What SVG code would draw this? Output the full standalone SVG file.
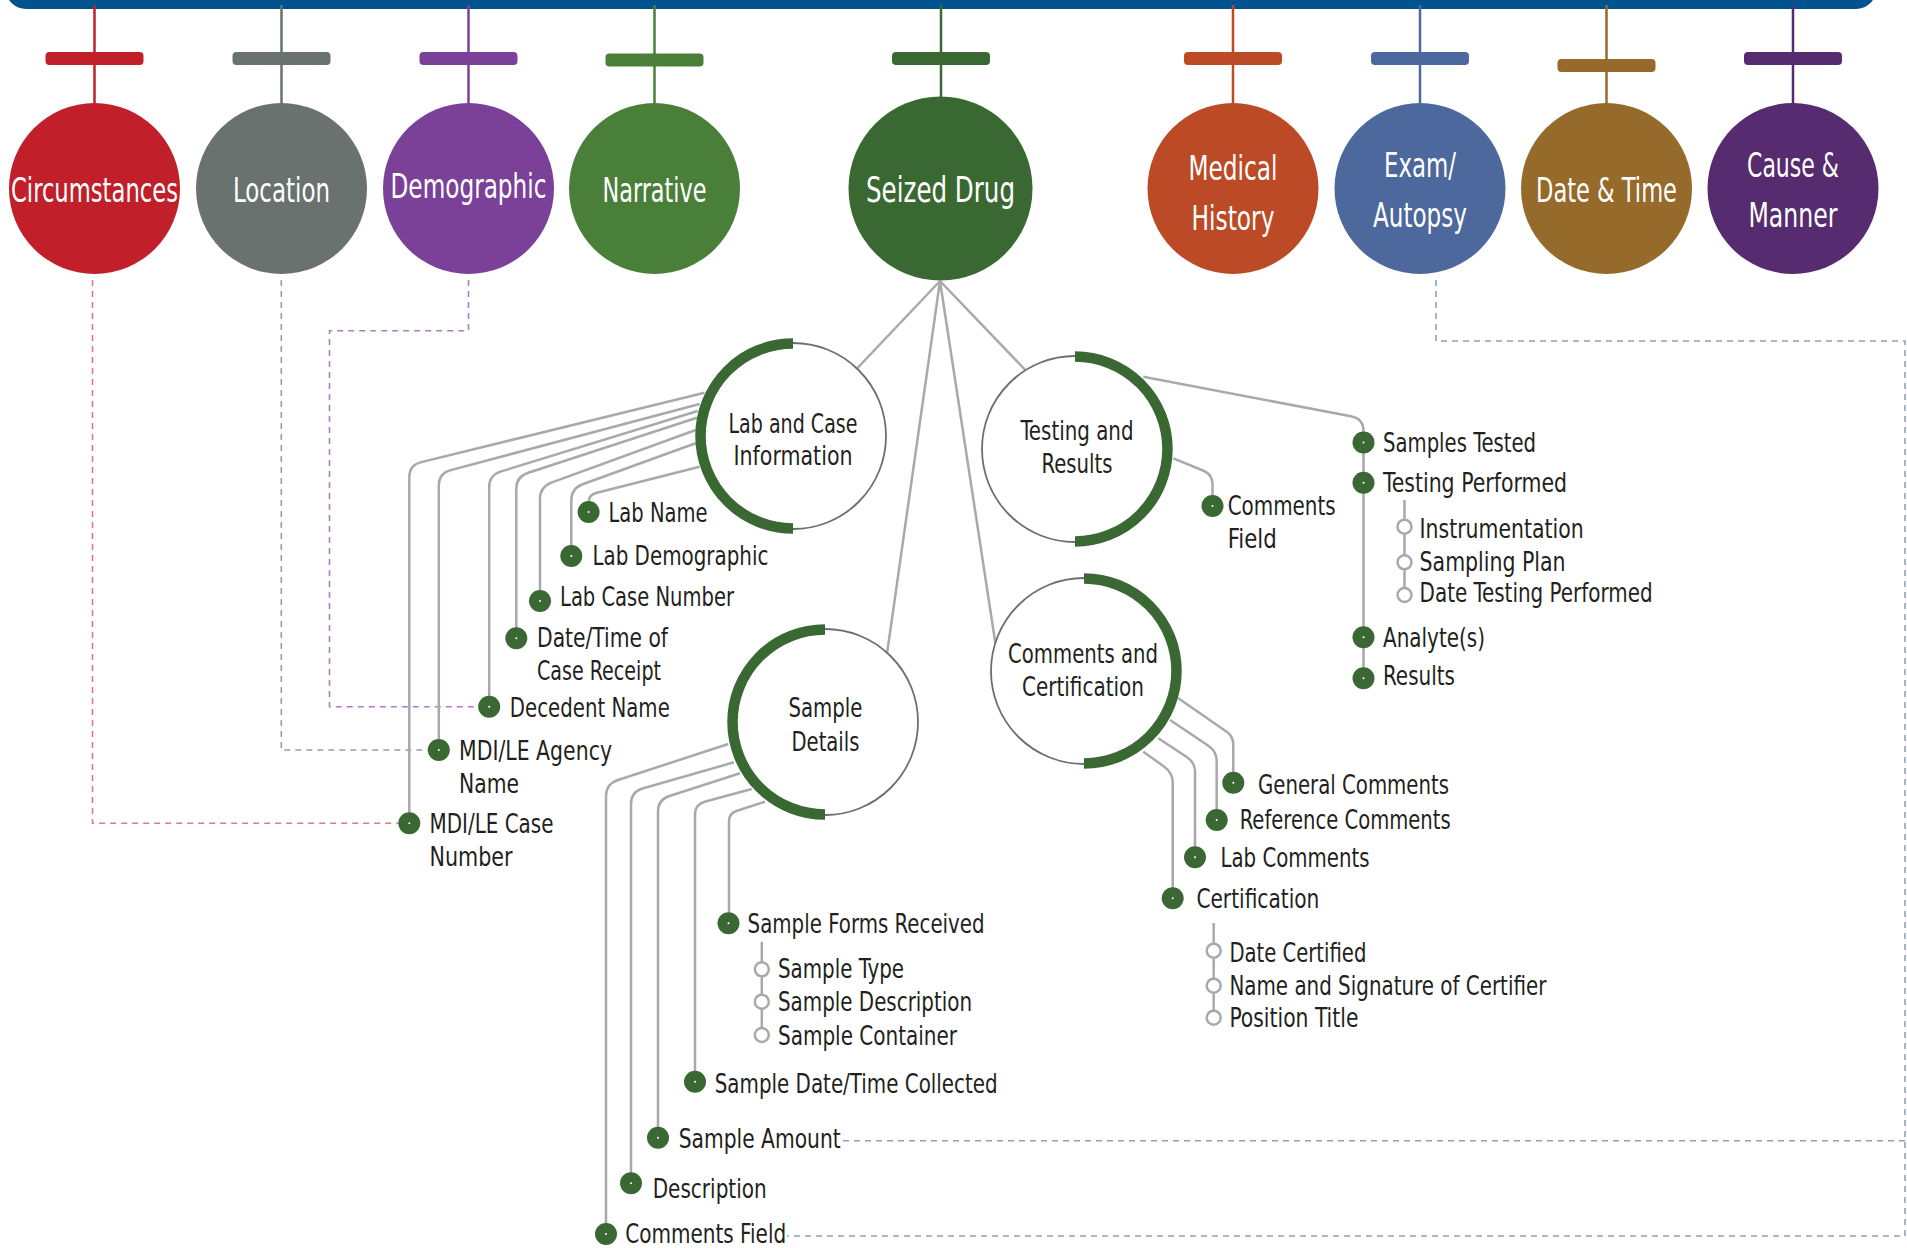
<svg xmlns="http://www.w3.org/2000/svg" xmlns:xlink="http://www.w3.org/1999/xlink" width="1907" height="1248" viewBox="0 0 1907 1248">
<style>
text{font-family:'DejaVu Sans Condensed','Liberation Sans Narrow','DejaVu Sans',sans-serif;}
.lt{font-size:27px;fill:#231F20;}
.ct{font-size:26.5px;fill:#231F20;text-anchor:middle;}
.tt{font-size:34px;fill:#FFFFFF;text-anchor:middle;}
.conn{fill:none;stroke:#A7A9AC;stroke-width:2.5;}
.ring{fill:#FFFFFF;stroke:#6D6E71;stroke-width:1.8;}
.arc{fill:none;stroke:#3A6833;stroke-width:10.5;}
.dash{fill:none;stroke-width:1.6;stroke-dasharray:6 5;}
.stem{stroke-width:2.5;fill:none;}
</style>
<defs>
<g id="gdot"><circle r="11" fill="#3A6833"/><circle r="1" fill="#FFFFFF"/></g>
<circle id="hdot" r="7" fill="#FFFFFF" stroke="#A7A9AC" stroke-width="2.5"/>
</defs>

<rect x="6" y="-30" width="1870" height="39" rx="20" fill="#00538F"/>

<g id="connectors">
  <path class="dash" stroke="#E07B82" d="M92.5,280 V823.3 H400"/>
  <path class="dash" stroke="#9B9D9F" d="M281.3,280 V750 H430"/>
  <path class="dash" stroke="#B07CC6" d="M468.5,280 V330.7 H329.5 V706.7 H480"/>
  <path class="dash" stroke="#8DA0C6" d="M1436,280 V341 H1905 V1236 H787"/>
  <path class="dash" stroke="#8DA0C6" d="M1905,1140.7 H840"/>
  <path class="conn" d="M940,281 L793,436"/>
  <path class="conn" d="M940,281 L1048.8,394.5"/>
  <path class="conn" d="M940,281 L879.4,707.3"/>
  <path class="conn" d="M940,281 L1001,680"/>
  <path class="conn" d="M704.5,392.7 L421.3,462.1 Q409.3,465 409.3,477 L409.3,823.3"/>
  <path class="conn" d="M699.6,404 L450.8,470.1 Q438.8,473.3 438.8,485.3 L438.8,750"/>
  <path class="conn" d="M697.6,411 L501.2,471.4 Q489.2,475 489.2,487 L489.2,706.7"/>
  <path class="conn" d="M696.9,417.7 L528.3,472.8 Q516.3,476.7 516.3,488.7 L516.3,638.3"/>
  <path class="conn" d="M695.7,430 L552,482.3 Q540,486.7 540,498.7 L540,601"/>
  <path class="conn" d="M695.7,443.3 L583.3,484 Q571.3,488.3 571.3,500.3 L571.3,556"/>
  <path class="conn" d="M699.6,466.7 L596,493 Q588.6,495 588.6,503 L588.6,512"/>
  <path class="conn" d="M728.3,744 L618,780 Q606,784 606,796 L606,1234"/>
  <path class="conn" d="M734,762.3 L642.5,788.5 Q631,792 631,804 L631,1183.3"/>
  <path class="conn" d="M740,773.3 L669.5,796 Q658,799.5 658,811.5 L658,1137.7"/>
  <path class="conn" d="M751.7,789 L705.5,801.5 Q695,804.3 695,814 L695,1081.7"/>
  <path class="conn" d="M765,801.7 L737,810.8 Q729,813.4 729,821 L729,923.3"/>
  <path class="conn" d="M761.8,941.7 V1035"/>
  <path class="conn" d="M1143.3,376.7 L1351,416.3 Q1363.5,419 1363.5,431 L1363.5,678.3"/>
  <path class="conn" d="M1173.3,458.3 L1203,470.5 Q1212.5,474.5 1212.5,484 L1212.5,506"/>
  <path class="conn" d="M1404.5,500 V595"/>
  <path class="conn" d="M1178.3,698.3 L1226.7,731.7 Q1233.3,736.3 1233.3,745 L1233.3,782.7"/>
  <path class="conn" d="M1170,720 L1208,745.5 Q1216.7,751.5 1216.7,761 L1216.7,820"/>
  <path class="conn" d="M1158.3,738.3 L1186,756.5 Q1195,762.5 1195,771 L1195,857.3"/>
  <path class="conn" d="M1143.3,751.7 L1164,766.5 Q1172.7,773 1172.7,782 L1172.7,898.3"/>
  <path class="conn" d="M1213.7,923 V1017.7"/>
</g>

<g id="node-circumstances">
  <line class="stem" stroke="#C1202A" x1="94.5" y1="5" x2="94.5" y2="110"/>
  <rect x="45.5" y="52" width="98" height="13" rx="4" fill="#C1202A"/>
  <circle cx="94.5" cy="188.5" r="85.5" fill="#C1202A"/>
  <text class="tt" x="94.5" y="201.7" textLength="167" lengthAdjust="spacingAndGlyphs">Circumstances</text>
</g>
<g id="node-location">
  <line class="stem" stroke="#6A7270" x1="281.5" y1="5" x2="281.5" y2="110"/>
  <rect x="232.5" y="52" width="98" height="13" rx="4" fill="#6A7270"/>
  <circle cx="281.5" cy="188.5" r="85.5" fill="#6A7270"/>
  <text class="tt" x="281.5" y="201.7" textLength="97" lengthAdjust="spacingAndGlyphs">Location</text>
</g>
<g id="node-demographic">
  <line class="stem" stroke="#7B4199" x1="468.5" y1="5" x2="468.5" y2="110"/>
  <rect x="419.5" y="52" width="98" height="13" rx="4" fill="#7B4199"/>
  <circle cx="468.5" cy="188.5" r="85.5" fill="#7B4199"/>
  <text class="tt" x="468.5" y="197.5" textLength="156" lengthAdjust="spacingAndGlyphs">Demographic</text>
</g>
<g id="node-narrative">
  <line class="stem" stroke="#4A7F3A" x1="654.5" y1="5" x2="654.5" y2="110"/>
  <rect x="605.5" y="53.5" width="98" height="13" rx="4" fill="#4A7F3A"/>
  <circle cx="654.5" cy="188.5" r="85.5" fill="#4A7F3A"/>
  <text class="tt" x="654.5" y="201.7" textLength="104" lengthAdjust="spacingAndGlyphs">Narrative</text>
</g>
<g id="node-seized-drug">
  <line class="stem" stroke="#3A6833" x1="941" y1="5" x2="941" y2="110"/>
  <rect x="892" y="52" width="98" height="13" rx="4" fill="#3A6833"/>
  <circle cx="940.5" cy="188.5" r="92" fill="#3A6833"/>
  <text class="tt" x="940.5" y="201.7" style="font-size:36px" textLength="149" lengthAdjust="spacingAndGlyphs">Seized Drug</text>
</g>
<g id="node-medical-history">
  <line class="stem" stroke="#BC4A26" x1="1233" y1="5" x2="1233" y2="110"/>
  <rect x="1184" y="52" width="98" height="13" rx="4" fill="#BC4A26"/>
  <circle cx="1233" cy="188.5" r="85.5" fill="#BC4A26"/>
  <text class="tt" x="1233" y="180" textLength="89" lengthAdjust="spacingAndGlyphs">Medical</text>
  <text class="tt" x="1233" y="230" textLength="83" lengthAdjust="spacingAndGlyphs">History</text>
</g>
<g id="node-exam-autopsy">
  <line class="stem" stroke="#4C689C" x1="1420" y1="5" x2="1420" y2="110"/>
  <rect x="1371" y="52" width="98" height="13" rx="4" fill="#4C689C"/>
  <circle cx="1420" cy="188.5" r="85.5" fill="#4C689C"/>
  <text class="tt" x="1420" y="176.7" textLength="72" lengthAdjust="spacingAndGlyphs">Exam/</text>
  <text class="tt" x="1420" y="226.7" textLength="94" lengthAdjust="spacingAndGlyphs">Autopsy</text>
</g>
<g id="node-date-time">
  <line class="stem" stroke="#956A2A" x1="1606.5" y1="5" x2="1606.5" y2="110"/>
  <rect x="1557.5" y="59" width="98" height="13" rx="4" fill="#956A2A"/>
  <circle cx="1606.5" cy="188.5" r="85.5" fill="#956A2A"/>
  <text class="tt" x="1606.5" y="201.7" textLength="141" lengthAdjust="spacingAndGlyphs">Date &amp; Time</text>
</g>
<g id="node-cause-manner">
  <line class="stem" stroke="#562B70" x1="1793" y1="5" x2="1793" y2="110"/>
  <rect x="1744" y="52" width="98" height="13" rx="4" fill="#562B70"/>
  <circle cx="1793" cy="188.5" r="85.5" fill="#562B70"/>
  <text class="tt" x="1793" y="176.7" textLength="92" lengthAdjust="spacingAndGlyphs">Cause &amp;</text>
  <text class="tt" x="1793" y="226.7" textLength="89" lengthAdjust="spacingAndGlyphs">Manner</text>
</g>

<g id="node-lab-case">
  <circle class="ring" cx="793" cy="436" r="93"/>
  <path class="arc" d="M793,343.5 A92.5,92.5 0 0 0 793,528.5"/>
  <text class="ct" x="793" y="432.7" textLength="129" lengthAdjust="spacingAndGlyphs">Lab and Case</text>
  <text class="ct" x="793" y="465" textLength="119" lengthAdjust="spacingAndGlyphs">Information</text>
</g>
<g id="node-testing">
  <circle class="ring" cx="1075" cy="449" r="93"/>
  <path class="arc" d="M1075,356.5 A92.5,92.5 0 0 1 1075,541.5"/>
  <text class="ct" x="1077" y="440" textLength="113" lengthAdjust="spacingAndGlyphs">Testing and</text>
  <text class="ct" x="1077" y="472.7" textLength="71" lengthAdjust="spacingAndGlyphs">Results</text>
</g>
<g id="node-sample-details">
  <circle class="ring" cx="825" cy="722" r="93"/>
  <path class="arc" d="M825,629.5 A92.5,92.5 0 0 0 825,814.5"/>
  <text class="ct" x="825.5" y="717.3" textLength="74" lengthAdjust="spacingAndGlyphs">Sample</text>
  <text class="ct" x="825.5" y="750.7" textLength="68" lengthAdjust="spacingAndGlyphs">Details</text>
</g>
<g id="node-comments-cert">
  <circle class="ring" cx="1084" cy="671" r="93"/>
  <path class="arc" d="M1084,578.5 A92.5,92.5 0 0 1 1084,763.5"/>
  <text class="ct" x="1083" y="663" textLength="150" lengthAdjust="spacingAndGlyphs">Comments and</text>
  <text class="ct" x="1083" y="695.7" textLength="122" lengthAdjust="spacingAndGlyphs">Certification</text>
</g>

<g id="item-lab-name"><use xlink:href="#gdot" x="588.6" y="512"/><text class="lt" x="608.5" y="521.7" textLength="99" lengthAdjust="spacingAndGlyphs">Lab Name</text></g>
<g id="item-lab-demographic"><use xlink:href="#gdot" x="571.3" y="556"/><text class="lt" x="592.4" y="565" textLength="176" lengthAdjust="spacingAndGlyphs">Lab Demographic</text></g>
<g id="item-lab-case-number"><use xlink:href="#gdot" x="540" y="601"/><text class="lt" x="560" y="606" textLength="174" lengthAdjust="spacingAndGlyphs">Lab Case Number</text></g>
<g id="item-date-time-receipt"><use xlink:href="#gdot" x="516.3" y="638.3"/><text class="lt" x="537" y="647.3" textLength="131" lengthAdjust="spacingAndGlyphs">Date/Time of</text><text class="lt" x="537" y="680" textLength="124" lengthAdjust="spacingAndGlyphs">Case Receipt</text></g>
<g id="item-decedent-name"><use xlink:href="#gdot" x="489.2" y="706.7"/><text class="lt" x="509.8" y="717" textLength="160" lengthAdjust="spacingAndGlyphs">Decedent Name</text></g>
<g id="item-agency-name"><use xlink:href="#gdot" x="438.8" y="750"/><text class="lt" x="459" y="760" textLength="153" lengthAdjust="spacingAndGlyphs">MDI/LE Agency</text><text class="lt" x="459" y="792.7" textLength="60" lengthAdjust="spacingAndGlyphs">Name</text></g>
<g id="item-case-number"><use xlink:href="#gdot" x="409.3" y="823.3"/><text class="lt" x="429.5" y="833.3" textLength="124" lengthAdjust="spacingAndGlyphs">MDI/LE Case</text><text class="lt" x="429.5" y="866" textLength="83" lengthAdjust="spacingAndGlyphs">Number</text></g>

<g id="item-samples-tested"><use xlink:href="#gdot" x="1363.5" y="442.5"/><text class="lt" x="1383" y="451.7" textLength="153" lengthAdjust="spacingAndGlyphs">Samples Tested</text></g>
<g id="item-testing-performed"><use xlink:href="#gdot" x="1363.5" y="482.7"/><text class="lt" x="1383" y="491.7" textLength="184" lengthAdjust="spacingAndGlyphs">Testing Performed</text></g>
<g id="item-instrumentation"><use xlink:href="#hdot" x="1404.5" y="526.7"/><text class="lt" x="1419.6" y="538.3" textLength="164" lengthAdjust="spacingAndGlyphs">Instrumentation</text></g>
<g id="item-sampling-plan"><use xlink:href="#hdot" x="1404.5" y="562.3"/><text class="lt" x="1419.6" y="570.7" textLength="146" lengthAdjust="spacingAndGlyphs">Sampling Plan</text></g>
<g id="item-date-testing"><use xlink:href="#hdot" x="1404.5" y="595"/><text class="lt" x="1419.6" y="601.7" textLength="233" lengthAdjust="spacingAndGlyphs">Date Testing Performed</text></g>
<g id="item-analytes"><use xlink:href="#gdot" x="1363.5" y="637.3"/><text class="lt" x="1383" y="646.7" textLength="102" lengthAdjust="spacingAndGlyphs">Analyte(s)</text></g>
<g id="item-results"><use xlink:href="#gdot" x="1363.5" y="678.3"/><text class="lt" x="1383" y="685" textLength="72" lengthAdjust="spacingAndGlyphs">Results</text></g>
<g id="item-testing-comments"><use xlink:href="#gdot" x="1212.5" y="506"/><text class="lt" x="1227.7" y="515" textLength="108" lengthAdjust="spacingAndGlyphs">Comments</text><text class="lt" x="1227.7" y="548.3" textLength="49" lengthAdjust="spacingAndGlyphs">Field</text></g>

<g id="item-general-comments"><use xlink:href="#gdot" x="1233.3" y="782.7"/><text class="lt" x="1258" y="794" textLength="191" lengthAdjust="spacingAndGlyphs">General Comments</text></g>
<g id="item-reference-comments"><use xlink:href="#gdot" x="1216.7" y="820"/><text class="lt" x="1239.7" y="829.3" textLength="211" lengthAdjust="spacingAndGlyphs">Reference Comments</text></g>
<g id="item-lab-comments"><use xlink:href="#gdot" x="1195" y="857.3"/><text class="lt" x="1220.5" y="867.3" textLength="149" lengthAdjust="spacingAndGlyphs">Lab Comments</text></g>
<g id="item-certification"><use xlink:href="#gdot" x="1172.7" y="898.3"/><text class="lt" x="1196.4" y="908.3" textLength="123" lengthAdjust="spacingAndGlyphs">Certification</text></g>
<g id="item-date-certified"><use xlink:href="#hdot" x="1213.7" y="950.7"/><text class="lt" x="1229.4" y="961.7" textLength="137" lengthAdjust="spacingAndGlyphs">Date Certified</text></g>
<g id="item-name-signature"><use xlink:href="#hdot" x="1213.7" y="985.7"/><text class="lt" x="1229.4" y="995" textLength="317" lengthAdjust="spacingAndGlyphs">Name and Signature of Certifier</text></g>
<g id="item-position-title"><use xlink:href="#hdot" x="1213.7" y="1017.7"/><text class="lt" x="1229.4" y="1026.7" textLength="129" lengthAdjust="spacingAndGlyphs">Position Title</text></g>

<g id="item-sample-forms"><use xlink:href="#gdot" x="728.5" y="923.3"/><text class="lt" x="747.6" y="933.3" textLength="237" lengthAdjust="spacingAndGlyphs">Sample Forms Received</text></g>
<g id="item-sample-type"><use xlink:href="#hdot" x="761.8" y="969.3"/><text class="lt" x="778" y="978.3" textLength="126" lengthAdjust="spacingAndGlyphs">Sample Type</text></g>
<g id="item-sample-description"><use xlink:href="#hdot" x="761.8" y="1001.7"/><text class="lt" x="778" y="1011" textLength="194" lengthAdjust="spacingAndGlyphs">Sample Description</text></g>
<g id="item-sample-container"><use xlink:href="#hdot" x="761.8" y="1035"/><text class="lt" x="778" y="1045" textLength="179" lengthAdjust="spacingAndGlyphs">Sample Container</text></g>
<g id="item-sample-datetime"><use xlink:href="#gdot" x="695" y="1081.7"/><text class="lt" x="714.7" y="1092.7" textLength="283" lengthAdjust="spacingAndGlyphs">Sample Date/Time Collected</text></g>
<g id="item-sample-amount"><use xlink:href="#gdot" x="658" y="1137.7"/><text class="lt" x="678.7" y="1148.3" textLength="162" lengthAdjust="spacingAndGlyphs">Sample Amount</text></g>
<g id="item-description"><use xlink:href="#gdot" x="631" y="1183.3"/><text class="lt" x="652.7" y="1198.3" textLength="114" lengthAdjust="spacingAndGlyphs">Description</text></g>
<g id="item-comments-field"><use xlink:href="#gdot" x="606" y="1234"/><text class="lt" x="625.2" y="1243.3" textLength="161" lengthAdjust="spacingAndGlyphs">Comments Field</text></g>
</svg>
